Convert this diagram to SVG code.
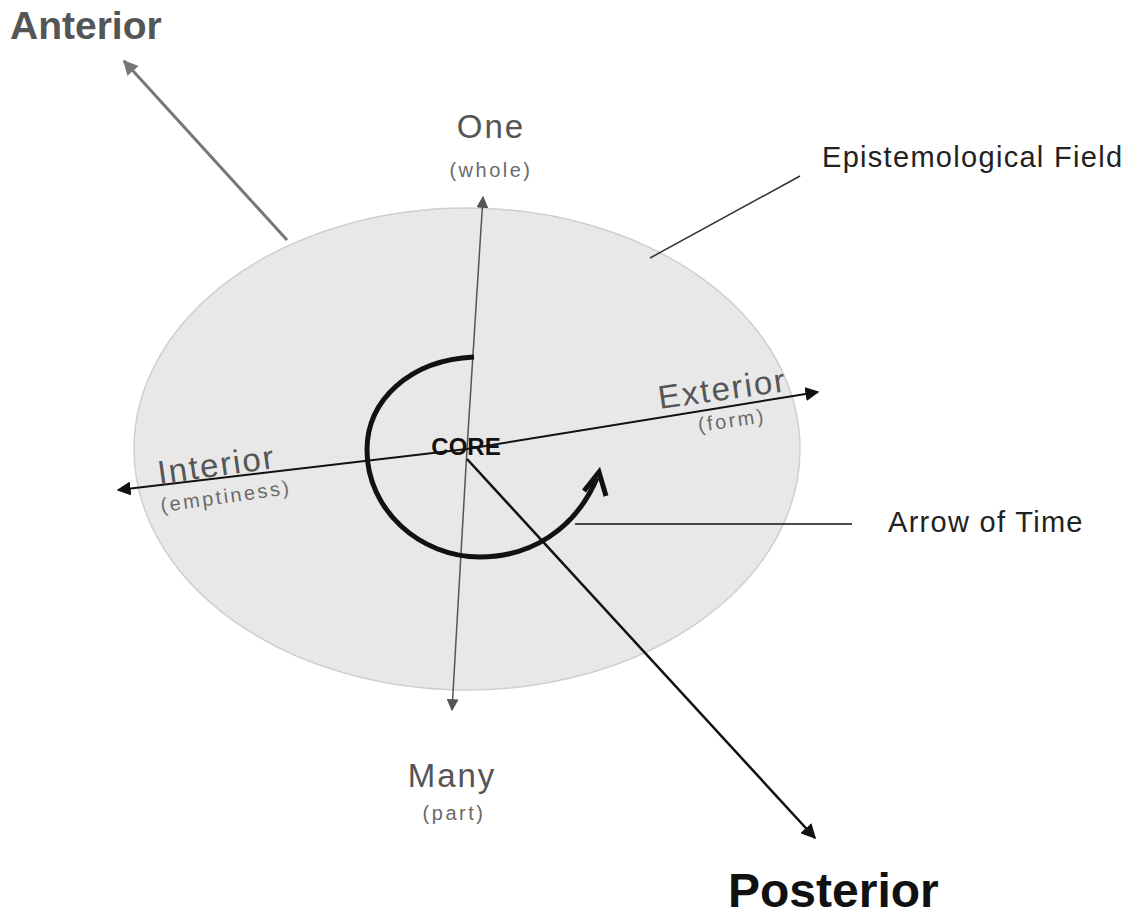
<svg xmlns="http://www.w3.org/2000/svg" width="1143" height="919" viewBox="0 0 1143 919">
<defs>
<style>
text{font-family:"Liberation Sans",Arial,sans-serif}
.gl{fill:#555;font-size:33px;letter-spacing:2px}
.sub{fill:#6a6a6a;font-size:20px;letter-spacing:2.5px}
.lbl{fill:#222;font-size:29px;letter-spacing:1.3px}
</style>
<marker id="ag" viewBox="0 0 10 10" refX="9" refY="5" markerWidth="5" markerHeight="5" orient="auto" markerUnits="strokeWidth"><path d="M0,0 L10,5 L0,10 z" fill="#777"/></marker>
<marker id="ad" viewBox="0 0 10 10" refX="9" refY="5" markerWidth="8" markerHeight="8" orient="auto" markerUnits="strokeWidth"><path d="M0,0 L10,5 L0,10 z" fill="#555"/></marker>
<marker id="ab" viewBox="0 0 10 10" refX="9" refY="5" markerWidth="7" markerHeight="7" orient="auto" markerUnits="strokeWidth"><path d="M0,0 L10,5 L0,10 z" fill="#111"/></marker>
<marker id="ap" viewBox="0 0 10 10" refX="9" refY="5" markerWidth="6" markerHeight="6" orient="auto" markerUnits="strokeWidth"><path d="M0,0 L10,5 L0,10 z" fill="#111"/></marker>
</defs>
<rect width="1143" height="919" fill="#fff"/>
<g id="field"><ellipse cx="467" cy="449" rx="333" ry="241" fill="#e8e8e8" stroke="#cfcfcf" stroke-width="1.5"/></g>
<g id="connectors" fill="none">
<line x1="287" y1="240" x2="124" y2="61" stroke="#777" stroke-width="3" marker-end="url(#ag)"/>
<line x1="467" y1="449" x2="483" y2="197" stroke="#555" stroke-width="1.5" marker-end="url(#ad)"/>
<line x1="467" y1="449" x2="452" y2="710" stroke="#555" stroke-width="1.5" marker-end="url(#ad)"/>
<line x1="467" y1="449" x2="818" y2="392" stroke="#111" stroke-width="2" marker-end="url(#ab)"/>
<line x1="467" y1="449" x2="118" y2="490" stroke="#111" stroke-width="2" marker-end="url(#ab)"/>
<line x1="467" y1="459" x2="815" y2="838" stroke="#111" stroke-width="2.5" marker-end="url(#ap)"/>
<line x1="650" y1="258" x2="800" y2="176" stroke="#333" stroke-width="1.5"/>
<line x1="575" y1="524" x2="852" y2="524" stroke="#111" stroke-width="1.5"/>
</g>
<g id="arrow-of-time" fill="none" stroke="#111" stroke-width="5">
<path d="M474 357 C410 360 367 400 367 450 C367 510 420 557 480 557 C530 557 575 530 597 478"/>
<polyline points="584,491 599,472 606,496" stroke-linejoin="miter" stroke-linecap="butt"/>
</g>
<g id="anterior"><text x="10" y="39" font-size="39" font-weight="bold" fill="#555">Anterior</text></g>
<g id="one"><text x="491" y="138" class="gl" text-anchor="middle">One</text><text x="491" y="177" class="sub" text-anchor="middle">(whole)</text></g>
<g id="many"><text x="452" y="787" class="gl" text-anchor="middle">Many</text><text x="454" y="820" class="sub" text-anchor="middle">(part)</text></g>
<g id="exterior" transform="rotate(-8 724 400)"><text x="724" y="400" class="gl" text-anchor="middle">Exterior</text><text x="729" y="428" class="sub" text-anchor="middle">(form)</text></g>
<g id="interior" transform="rotate(-8 218 476)"><text x="218" y="476" class="gl" text-anchor="middle">Interior</text><text x="223" y="504" class="sub" text-anchor="middle">(emptiness)</text></g>
<g id="core"><text x="466" y="455" font-size="24" font-weight="bold" fill="#111" text-anchor="middle">CORE</text></g>
<g id="epistemological"><text x="822" y="167" class="lbl">Epistemological Field</text></g>
<g id="time-label"><text x="888" y="532" class="lbl">Arrow of Time</text></g>
<g id="posterior"><text x="728" y="907" font-size="48" font-weight="bold" fill="#111">Posterior</text></g>
</svg>
